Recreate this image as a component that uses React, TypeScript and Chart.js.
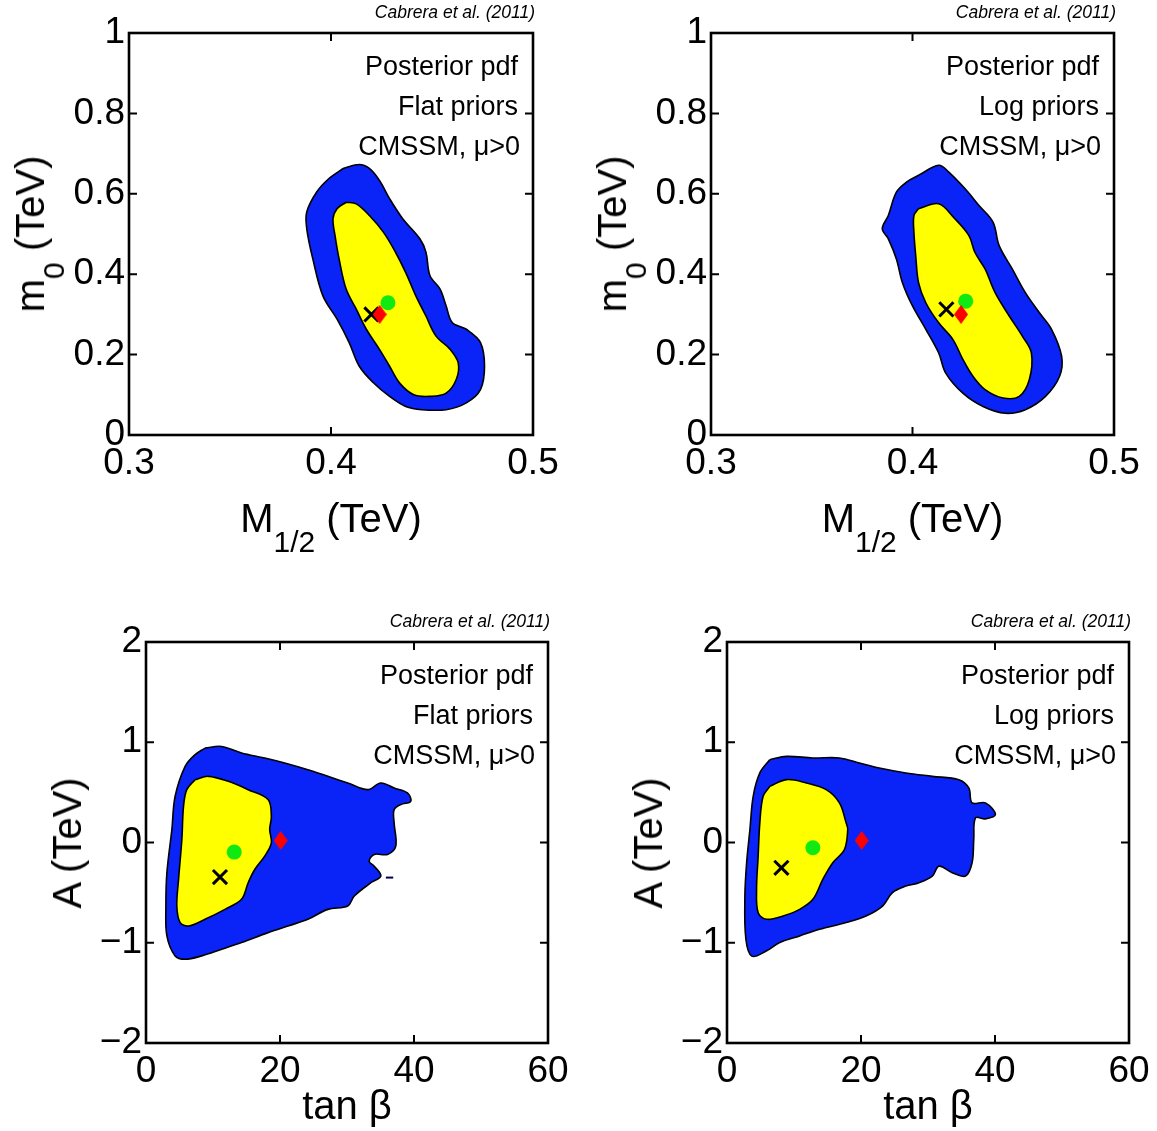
import React, { useEffect, useRef } from "react";
import { Chart, registerables } from "chart.js";

Chart.register(...registerables);

const FONT = '"Liberation Sans", Arial, Helvetica, sans-serif';
Chart.defaults.font.family = FONT;

// ---- tick values ----
const m12Ticks = [0.3, 0.4, 0.5];
const m0Ticks = [0, 0.2, 0.4, 0.6, 0.8, 1];
const tanBetaTicks = [0, 20, 40, 60];
const aTicks = [-2, -1, 0, 1, 2];

// ---- (M1/2, m0) flat priors ----
const flatM0Outer: [number, number][] = [
  [0.406, 0.663], [0.414, 0.673], [0.419, 0.663], [0.424, 0.633], [0.429, 0.588], [0.4355, 0.538],
  [0.444, 0.488], [0.447, 0.455], [0.449, 0.396], [0.454, 0.363], [0.457, 0.321], [0.46, 0.28],
  [0.467, 0.263], [0.474, 0.23], [0.476, 0.171], [0.474, 0.113], [0.467, 0.08], [0.457, 0.063],
  [0.445, 0.063], [0.437, 0.071], [0.429, 0.096], [0.421, 0.13], [0.414, 0.171], [0.409, 0.23],
  [0.403, 0.288], [0.396, 0.346], [0.391, 0.438], [0.388, 0.513], [0.388, 0.555], [0.393, 0.605],
  [0.399, 0.638], [0.406, 0.663],
];
const flatM0Inner: [number, number][] = [
  [0.4075, 0.579], [0.4125, 0.575], [0.419, 0.546], [0.426, 0.504], [0.432, 0.454], [0.437, 0.404],
  [0.442, 0.346], [0.447, 0.296], [0.452, 0.246], [0.459, 0.213], [0.463, 0.179], [0.462, 0.138],
  [0.457, 0.104], [0.449, 0.096], [0.441, 0.1], [0.434, 0.129], [0.429, 0.171], [0.424, 0.213],
  [0.4175, 0.263], [0.4125, 0.313], [0.4075, 0.363], [0.404, 0.438], [0.402, 0.496], [0.401, 0.538],
  [0.403, 0.563], [0.4075, 0.579],
];
const flatM0BestFit: [number, number] = [0.42, 0.3];
const flatM0Mean: [number, number] = [0.4282, 0.329];
const m0Benchmark: [number, number] = [0.4241, 0.3];

// ---- (M1/2, m0) log priors ----
const logM0Outer: [number, number][] = [
  [0.403, 0.646], [0.413, 0.671], [0.418, 0.654], [0.426, 0.613], [0.433, 0.571], [0.44, 0.529],
  [0.443, 0.471], [0.4495, 0.413], [0.456, 0.354], [0.463, 0.304], [0.469, 0.263], [0.474, 0.196],
  [0.473, 0.146], [0.466, 0.096], [0.456, 0.063], [0.446, 0.054], [0.435, 0.071], [0.425, 0.104],
  [0.4165, 0.154], [0.413, 0.204], [0.4066, 0.263], [0.4, 0.321], [0.395, 0.379], [0.392, 0.438],
  [0.388, 0.488], [0.385, 0.513], [0.388, 0.546], [0.392, 0.604], [0.397, 0.629], [0.403, 0.646],
];
const logM0Inner: [number, number][] = [
  [0.403, 0.563], [0.413, 0.575], [0.421, 0.538], [0.428, 0.496], [0.431, 0.454], [0.436, 0.413],
  [0.441, 0.354], [0.448, 0.296], [0.4545, 0.246], [0.459, 0.204], [0.458, 0.138], [0.453, 0.096],
  [0.445, 0.092], [0.436, 0.113], [0.43, 0.146], [0.425, 0.188], [0.42, 0.238], [0.413, 0.279],
  [0.4066, 0.329], [0.403, 0.379], [0.4016, 0.446], [0.4007, 0.504], [0.4007, 0.546], [0.403, 0.563],
];
const logM0BestFit: [number, number] = [0.4168, 0.3125];
const logM0Mean: [number, number] = [0.4264, 0.333];

// ---- (tan beta, A) flat priors ----
const flatAOuter: [number, number][] = [
  [8.81, 0.942], [11.29, 0.958], [14.26, 0.893], [17.72, 0.843], [20.69, 0.793], [24.16, 0.726],
  [27.14, 0.66], [30.11, 0.594], [33.08, 0.527], [35.05, 0.594], [37.03, 0.544], [39.02, 0.495],
  [39.51, 0.411], [38.02, 0.378], [37.03, 0.328], [37.03, 0.196], [37.28, -0.037], [36.05, -0.119],
  [34.06, -0.119], [33.31, -0.186], [34.06, -0.236], [35.05, -0.335], [33.57, -0.401], [31.09, -0.534],
  [30.11, -0.634], [27.14, -0.667], [24.16, -0.766], [21.19, -0.833], [18.22, -0.899], [14.26, -0.998],
  [11.29, -1.065], [8.32, -1.131], [5.84, -1.164], [4.35, -1.131], [3.12, -0.932], [2.97, -0.634],
  [3.12, -0.301], [3.86, 0.129], [4.35, 0.461], [5.84, 0.759], [7.33, 0.876], [8.81, 0.942],
];
const flatAInner: [number, number][] = [
  [7.32, 0.627], [9.31, 0.66], [12.28, 0.61], [15.25, 0.527], [18.22, 0.428], [18.71, 0.262],
  [18.46, 0.129], [18.71, -0.003], [17.72, -0.136], [16.23, -0.269], [15.25, -0.401], [14.26, -0.567],
  [11.78, -0.667], [8.81, -0.766], [6.34, -0.833], [5.09, -0.799], [4.6, -0.634], [4.86, -0.368],
  [5.35, 0.03], [5.6, 0.361], [6.09, 0.527], [7.32, 0.627],
];
const flatAIsland: [number, number][] = [[35.8, -0.35], [36.9, -0.35]];
const flatABestFit: [number, number] = [11.04, -0.345];
const flatAMean: [number, number] = [13.17, -0.096];
const aBenchmark: [number, number] = [20.1, 0.02];

// ---- (tan beta, A) log priors ----
const logAOuter: [number, number][] = [
  [6.39, 0.826], [8.87, 0.859], [12.82, 0.843], [16.78, 0.843], [19.75, 0.793], [22.72, 0.743],
  [26.69, 0.694], [30.64, 0.66], [34.6, 0.627], [36.09, 0.544], [36.58, 0.395], [38.57, 0.395],
  [40.06, 0.279], [38.57, 0.236], [37.09, 0.246], [36.83, 0.03], [36.58, -0.202], [35.6, -0.335],
  [33.61, -0.301], [31.64, -0.236], [30.64, -0.335], [28.66, -0.401], [26.69, -0.435], [24.7, -0.5],
  [23.21, -0.634], [20.75, -0.733], [17.78, -0.799], [13.81, -0.866], [10.84, -0.932], [7.87, -0.998],
  [5.79, -1.085], [3.71, -1.134], [2.82, -0.965], [2.67, -0.534], [2.93, -0.202], [3.42, 0.129],
  [3.91, 0.461], [4.9, 0.694], [6.39, 0.826],
];
const logAInner: [number, number][] = [
  [6.39, 0.56], [8.87, 0.627], [11.84, 0.594], [14.81, 0.527], [16.78, 0.395], [17.78, 0.196],
  [18.02, 0.129], [17.53, -0.07], [15.79, -0.202], [14.3, -0.368], [12.82, -0.567], [10.84, -0.667],
  [8.36, -0.733], [5.9, -0.766], [4.65, -0.7], [4.41, -0.468], [4.65, -0.136], [4.9, 0.196],
  [5.39, 0.461], [6.39, 0.56],
];
const logABestFit: [number, number] = [8.12, -0.252];
const logAMean: [number, number] = [12.82, -0.053];

const BLUE = "#0a24f8";
const YELLOW = "#ffff00";
const GREEN = "#10ea10";
const RED = "#ff0000";

type Rect = { left: number; top: number; width: number; height: number };
type Area = { left: number; top: number; right: number; bottom: number };

type PanelSpec = {
  canvas: Rect;
  area: Area;
  xMin: number; xMax: number; xTicks: number[]; xFmt: (v: number) => string;
  yMin: number; yMax: number; yTicks: number[]; yFmt: (v: number) => string;
  outer: [number, number][];
  inner: [number, number][];
  island?: [number, number][];
  bestFit: [number, number];
  mean: [number, number];
  benchmark: [number, number];
};

const fmt1 = (v: number) => v.toFixed(1);
const fmtM0 = (v: number) => (v === 0 || v === 1 ? String(v) : v.toFixed(1));
const fmtInt = (v: number) => (v < 0 ? "\u2212" + Math.abs(v) : String(v));

const panels: PanelSpec[] = [
  {
    canvas: { left: 0, top: 0, width: 578, height: 575 },
    area: { left: 129, top: 33, right: 533, bottom: 435 },
    xMin: 0.3, xMax: 0.5, xTicks: m12Ticks, xFmt: fmt1,
    yMin: 0, yMax: 1, yTicks: m0Ticks, yFmt: fmtM0,
    outer: flatM0Outer, inner: flatM0Inner,
    bestFit: flatM0BestFit, mean: flatM0Mean, benchmark: m0Benchmark,
  },
  {
    canvas: { left: 578, top: 0, width: 579, height: 575 },
    area: { left: 711, top: 33, right: 1114, bottom: 435 },
    xMin: 0.3, xMax: 0.5, xTicks: m12Ticks, xFmt: fmt1,
    yMin: 0, yMax: 1, yTicks: m0Ticks, yFmt: fmtM0,
    outer: logM0Outer, inner: logM0Inner,
    bestFit: logM0BestFit, mean: logM0Mean, benchmark: m0Benchmark,
  },
  {
    canvas: { left: 0, top: 575, width: 578, height: 556 },
    area: { left: 146, top: 642, right: 548, bottom: 1043 },
    xMin: 0, xMax: 60, xTicks: tanBetaTicks, xFmt: fmtInt,
    yMin: -2, yMax: 2, yTicks: aTicks, yFmt: fmtInt,
    outer: flatAOuter, inner: flatAInner, island: flatAIsland,
    bestFit: flatABestFit, mean: flatAMean, benchmark: aBenchmark,
  },
  {
    canvas: { left: 578, top: 575, width: 579, height: 556 },
    area: { left: 727, top: 642, right: 1129, bottom: 1043 },
    xMin: 0, xMax: 60, xTicks: tanBetaTicks, xFmt: fmtInt,
    yMin: -2, yMax: 2, yTicks: aTicks, yFmt: fmtInt,
    outer: logAOuter, inner: logAInner,
    bestFit: logABestFit, mean: logAMean, benchmark: aBenchmark,
  },
];

const framePlugin = {
  id: "matlabFrame",
  afterDatasetsDraw(chart: any) {
    const { ctx, chartArea } = chart;
    const { left, right, top, bottom } = chartArea;
    const xs = chart.scales.x;
    const ys = chart.scales.y;
    const L = 8;
    ctx.save();
    ctx.strokeStyle = "#000";
    ctx.lineWidth = 2;
    ctx.beginPath();
    xs.ticks.forEach((t: any) => {
      const p = xs.getPixelForValue(t.value);
      ctx.moveTo(p, bottom);
      ctx.lineTo(p, bottom - L);
      ctx.moveTo(p, top);
      ctx.lineTo(p, top + L);
    });
    ys.ticks.forEach((t: any) => {
      const p = ys.getPixelForValue(t.value);
      ctx.moveTo(left, p);
      ctx.lineTo(left + L, p);
      ctx.moveTo(right, p);
      ctx.lineTo(right - L, p);
    });
    ctx.stroke();
    ctx.lineWidth = 2.6;
    ctx.strokeRect(left, top, right - left, bottom - top);
    ctx.restore();
  },
};

function makeDiamond(): HTMLCanvasElement {
  const c = document.createElement("canvas");
  c.width = 14;
  c.height = 19;
  const g = c.getContext("2d")!;
  g.fillStyle = RED;
  g.beginPath();
  g.moveTo(7, 0);
  g.lineTo(14, 9.5);
  g.lineTo(7, 19);
  g.lineTo(0, 9.5);
  g.closePath();
  g.fill();
  return c;
}

const toXY = (arr: [number, number][]) => arr.map(([x, y]) => ({ x, y }));

const YW = 70;
const XH = 60;

function Panel({ spec }: { spec: PanelSpec }) {
  const ref = useRef<HTMLCanvasElement>(null);
  useEffect(() => {
    const c = spec.canvas;
    const a = spec.area;
    const datasets: any[] = [
      {
        data: [{ x: spec.benchmark[0], y: spec.benchmark[1] }],
        pointStyle: makeDiamond(),
        pointRadius: 8,
        order: 0,
      },
      {
        data: [{ x: spec.mean[0], y: spec.mean[1] }],
        pointStyle: "circle",
        pointRadius: 7.5,
        backgroundColor: GREEN,
        borderWidth: 0,
        order: 1,
      },
      {
        data: [{ x: spec.bestFit[0], y: spec.bestFit[1] }],
        pointStyle: "crossRot",
        pointRadius: 10,
        borderColor: "#000",
        borderWidth: 3,
        order: 2,
      },
      {
        data: toXY(spec.inner),
        showLine: true,
        fill: "shape",
        backgroundColor: YELLOW,
        borderColor: "#000",
        borderWidth: 1.6,
        pointRadius: 0,
        tension: 0.35,
        order: 3,
      },
      {
        data: toXY(spec.outer),
        showLine: true,
        fill: "shape",
        backgroundColor: BLUE,
        borderColor: "#000",
        borderWidth: 1.6,
        pointRadius: 0,
        tension: 0.35,
        order: 4,
      },
    ];
    if (spec.island) {
      datasets.push({
        data: toXY(spec.island),
        showLine: true,
        borderColor: "#000050",
        borderWidth: 2,
        pointRadius: 0,
        order: 0,
      });
    }
    const tickFont = { family: FONT, size: 37 };
    const chart = new Chart(ref.current!, {
      type: "scatter",
      data: { datasets },
      options: {
        responsive: false,
        maintainAspectRatio: false,
        animation: false,
        events: [],
        layout: {
          padding: {
            left: a.left - c.left - YW,
            top: a.top - c.top,
            right: c.left + c.width - a.right,
            bottom: c.top + c.height - a.bottom - XH,
          },
        },
        plugins: { legend: { display: false }, tooltip: { enabled: false } },
        scales: {
          x: {
            type: "linear",
            min: spec.xMin,
            max: spec.xMax,
            afterBuildTicks: (s: any) => {
              s.ticks = spec.xTicks.map((v) => ({ value: v }));
            },
            afterFit: (s: any) => {
              s.height = XH;
            },
            grid: { display: false, drawTicks: false },
            border: { display: false },
            ticks: {
              font: tickFont,
              color: "#000",
              padding: 7,
              maxRotation: 0,
              autoSkip: false,
              callback: (v: any) => spec.xFmt(Number(v)),
            },
          },
          y: {
            type: "linear",
            min: spec.yMin,
            max: spec.yMax,
            afterBuildTicks: (s: any) => {
              s.ticks = spec.yTicks.map((v) => ({ value: v }));
            },
            afterFit: (s: any) => {
              s.width = YW;
            },
            grid: { display: false, drawTicks: false },
            border: { display: false },
            ticks: {
              font: tickFont,
              color: "#000",
              padding: 4,
              autoSkip: false,
              callback: (v: any) => spec.yFmt(Number(v)),
            },
          },
        },
      } as any,
      plugins: [framePlugin],
    });
    return () => chart.destroy();
  }, [spec]);
  const c = spec.canvas;
  return (
    <canvas
      ref={ref}
      width={c.width}
      height={c.height}
      style={{ position: "absolute", left: c.left, top: c.top, width: c.width, height: c.height }}
    />
  );
}

type TxtProps = {
  x: number;
  y: number;
  align: "left" | "right" | "center";
  size: number;
  italic?: boolean;
  rotate?: boolean;
  children: React.ReactNode;
};

function Txt({ x, y, align, size, italic, rotate, children }: TxtProps) {
  const tx = align === "right" ? "-100%" : align === "left" ? "0" : "-50%";
  return (
    <div
      style={{
        position: "absolute",
        left: x,
        top: y,
        fontFamily: FONT,
        fontSize: size,
        fontStyle: italic ? "italic" : "normal",
        lineHeight: 1,
        whiteSpace: "nowrap",
        color: "#000",
        transform: `translate(${tx}, -50%)` + (rotate ? " rotate(-90deg)" : ""),
      }}
    >
      {children}
    </div>
  );
}

const Sub = ({ children }: { children: React.ReactNode }) => (
  <span style={{ fontSize: 30, position: "relative", top: 20 }}>{children}</span>
);

const citation = "Cabrera et al. (2011)";
const line1 = "Posterior pdf";
const priorLabels = ["Flat priors", "Log priors", "Flat priors", "Log priors"];
const line3 = "CMSSM, \u03bc>0";

export default function App() {
  return (
    <div
      style={{
        position: "absolute",
        left: 0,
        top: 0,
        width: 1157,
        height: 1131,
        background: "#fff",
        overflow: "hidden",
      }}
    >
      {panels.map((p, i) => (
        <Panel key={i} spec={p} />
      ))}
      {panels.map((p, i) => {
        const a = p.area;
        const cx = (a.left + a.right) / 2;
        const cy = (a.top + a.bottom) / 2;
        const isTop = i < 2;
        return (
          <React.Fragment key={"t" + i}>
            <Txt x={a.right + 2} y={a.top - 20} align="right" size={17.5} italic>
              {citation}
            </Txt>
            <Txt x={a.right - 15} y={a.top + 33} align="right" size={27}>
              {line1}
            </Txt>
            <Txt x={a.right - 15} y={a.top + 73} align="right" size={27}>
              {priorLabels[i]}
            </Txt>
            <Txt x={a.right - 13} y={a.top + 113} align="right" size={27}>
              {line3}
            </Txt>
            {isTop ? (
              <>
                <Txt x={cx} y={a.bottom + 83} align="center" size={40}>
                  M<Sub>1/2</Sub> (TeV)
                </Txt>
                <Txt x={a.left - 99} y={cy} align="center" size={40} rotate>
                  m<Sub>0</Sub> (TeV)
                </Txt>
              </>
            ) : (
              <>
                <Txt x={cx} y={a.bottom + 62} align="center" size={40}>
                  tan {"\u03b2"}
                </Txt>
                <Txt x={a.left - 79} y={cy} align="center" size={40} rotate>
                  A (TeV)
                </Txt>
              </>
            )}
          </React.Fragment>
        );
      })}
    </div>
  );
}
